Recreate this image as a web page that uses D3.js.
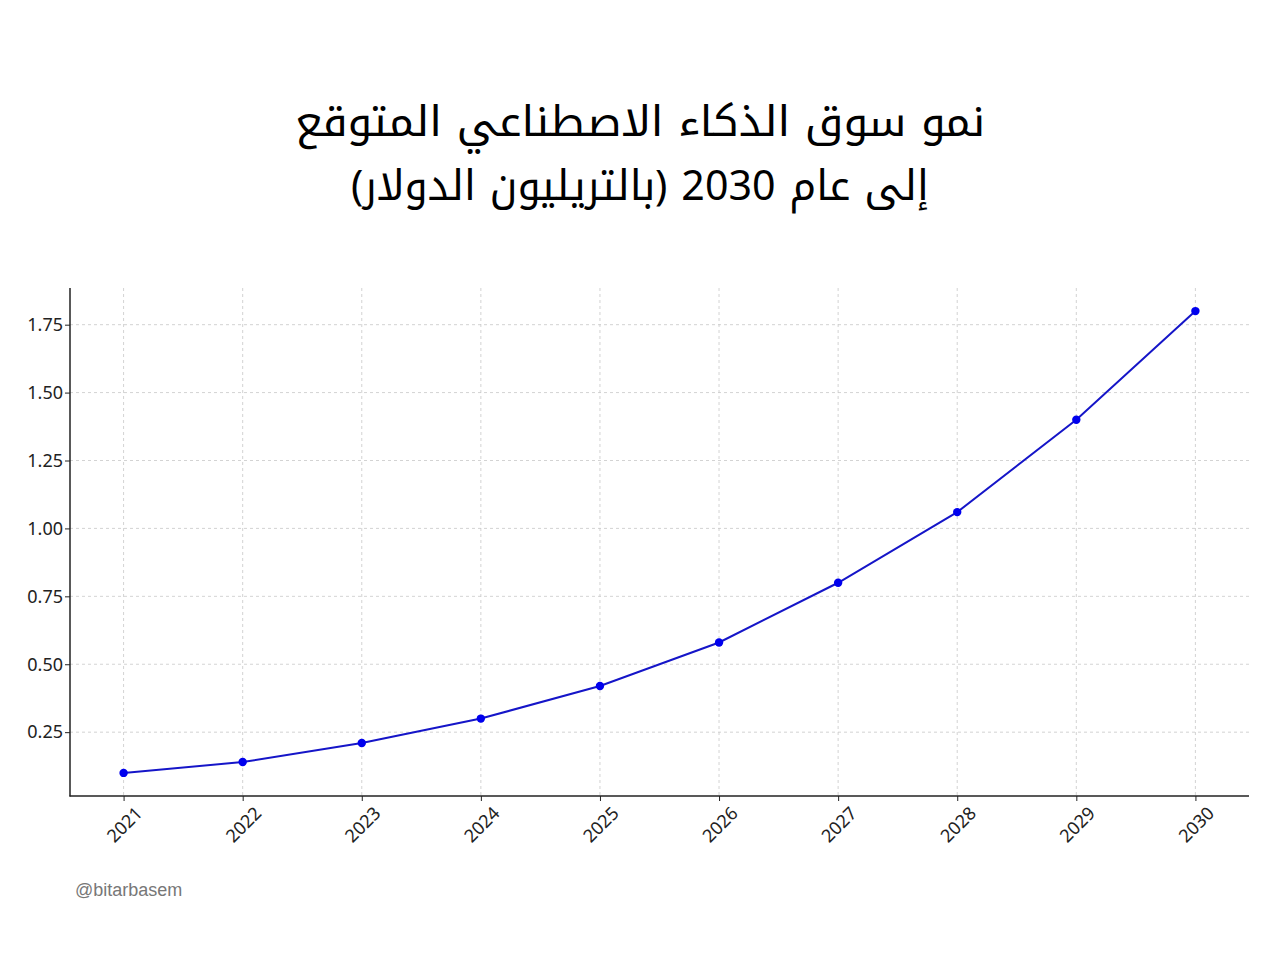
<!DOCTYPE html>
<html><head><meta charset="utf-8">
<script src="https://d3js.org/d3.v7.min.js"></script>
<style>body{margin:0;background:#fff}</style>
</head><body>
<script>
const years = [2021,2022,2023,2024,2025,2026,2027,2028,2029,2030];
const values = [0.10,0.14,0.21,0.30,0.42,0.58,0.80,1.06,1.40,1.80];
const yTicks = [0.25,0.50,0.75,1.00,1.25,1.50,1.75];
const titleLines = ["نمو سوق الذكاء الاصطناعي المتوقع","إلى عام 2030 (بالتريليون الدولار)"];
const xLabel = "Year";
const watermark = "@bitarbasem";

const W=1280,H=960;
const svg=d3.select("body").append("svg").attr("width",W).attr("height",H);
const L=70,R=1249,T=288,B=796;
const x=d3.scaleLinear().domain([2021-0.45,2030+0.45]).range([L,R]);
const y=d3.scaleLinear().domain([0.015,1.885]).range([B,T]);

const g=svg.append("g");
g.selectAll(".vg").data(years).enter().append("line")
 .attr("x1",d=>x(d)).attr("x2",d=>x(d)).attr("y1",T).attr("y2",B)
 .attr("stroke","#c8c8c8").attr("stroke-width",0.8).attr("stroke-dasharray","3,3");
g.selectAll(".hg").data(yTicks).enter().append("line")
 .attr("x1",L).attr("x2",R).attr("y1",d=>y(d)).attr("y2",d=>y(d))
 .attr("stroke","#c8c8c8").attr("stroke-width",0.8).attr("stroke-dasharray","3,3");

const xa=svg.append("g").attr("transform",`translate(0,${B})`)
 .call(d3.axisBottom(x).tickValues(years).tickFormat(d3.format("d")).tickSize(5).tickSizeOuter(0));
xa.select(".domain").remove();
xa.selectAll("text").attr("font-family","Noto Sans").attr("font-size",18).attr("fill","#222")
 .attr("text-anchor","end").attr("x",0).attr("y",0).attr("dy","0.35em")
 .attr("transform","translate(15,14) rotate(-45)");
xa.selectAll(".tick line").attr("stroke","#222");

const ya=svg.append("g").attr("transform",`translate(${L},0)`)
 .call(d3.axisLeft(y).tickValues(yTicks).tickFormat(d3.format(".2f")).tickSize(5).tickSizeOuter(0));
ya.select(".domain").remove();
ya.selectAll("text").attr("font-family","Noto Sans").attr("font-size",18).attr("fill","#222").attr("x",-7);
ya.selectAll(".tick line").attr("stroke","#222");

svg.append("line").attr("x1",L).attr("x2",L).attr("y1",T).attr("y2",B+0.5).attr("stroke","#222").attr("stroke-width",1.5);
svg.append("line").attr("x1",L-0.5).attr("x2",R).attr("y1",B).attr("y2",B).attr("stroke","#222").attr("stroke-width",1.5);

const line=d3.line().x((d,i)=>x(years[i])).y(d=>y(d));
svg.append("path").datum(values).attr("d",line).attr("fill","none").attr("stroke","#1515c8").attr("stroke-width",2);
svg.selectAll(".pt").data(values).enter().append("circle")
 .attr("cx",(d,i)=>x(years[i])).attr("cy",d=>y(d)).attr("r",4.2).attr("fill","#0000ee");

svg.append("clipPath").attr("id","clipx").append("rect").attr("x",0).attr("y",0).attr("width",W).attr("height",855);
svg.append("text").attr("clip-path","url(#clipx)").attr("x",(L+R)/2).attr("y",868)
 .attr("text-anchor","middle").attr("font-family","Noto Sans").attr("font-size",18).attr("fill","#222").text(xLabel);

const titleWidths=[690,578];
svg.selectAll(".title").data(titleLines).enter().append("text")
 .attr("x",640).attr("y",(d,i)=>136+i*64).attr("text-anchor","middle")
 .attr("font-family","Noto Kufi Arabic").attr("font-size",42).attr("fill","#000")
 .attr("textLength",(d,i)=>titleWidths[i]).attr("lengthAdjust","spacingAndGlyphs")
 .style("direction","rtl").style("unicode-bidi","plaintext")
 .text(d=>d);

svg.append("text").attr("x",75).attr("y",896).attr("font-family","Liberation Sans").attr("font-size",18)
 .attr("fill","#777").text(watermark);
</script>
</body></html>
